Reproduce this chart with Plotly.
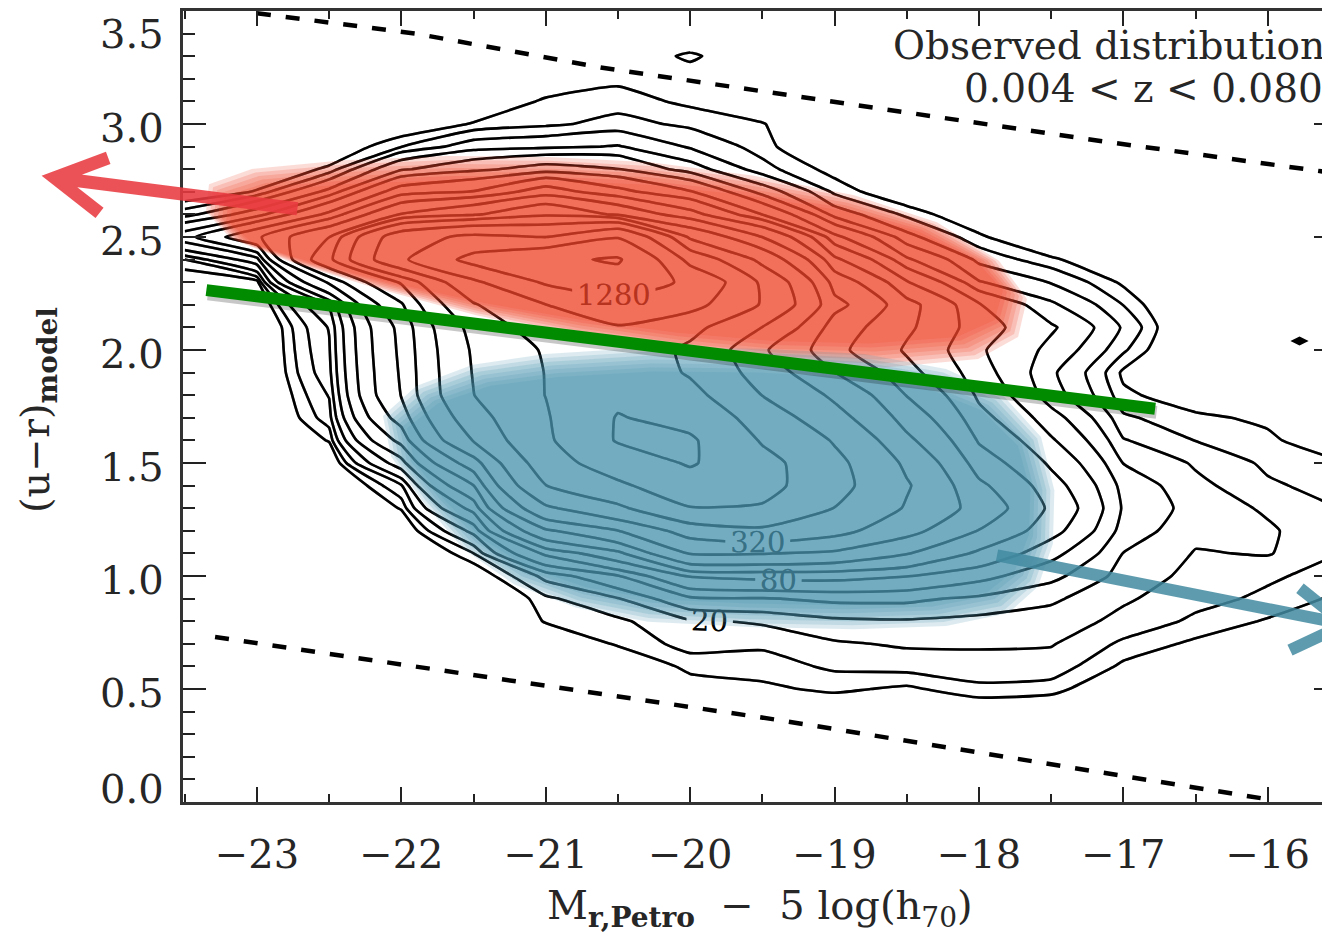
import numpy as np
import plotly.graph_objects as go

# ---------------- values ----------------
# magnitude bins (x) and colour bins (y) of the 2-D galaxy count histogram
mag_bins = [-23.5, -23.0, -22.5, -22.0, -21.5, -21.0, -20.5, -20.0, -19.5,
            -19.0, -18.5, -18.0, -17.5, -17.0, -16.5, -16.0, -15.5]
color_bins = [3.5, 3.4, 3.3, 3.2, 3.1, 3.0, 2.9, 2.8, 2.7, 2.6, 2.5, 2.4,
              2.3, 2.2, 2.1, 2.0, 1.9, 1.8, 1.7, 1.6, 1.5, 1.4, 1.3, 1.2,
              1.1, 1.0, 0.9, 0.8, 0.7, 0.6, 0.5, 0.4, 0.3, 0.2]

# estimated galaxy counts per bin, one list per magnitude column (colour 3.5 -> 0.2)
counts_m23_5 = [0, 0, 0, 0, 0, 0, 0, 0, 5, 17, 48, 14, 5, 2, 0, 0, 0, 0, 0, 0,
                0, 0, 0, 0, 0, 0, 0, 0, 0, 0, 0, 0, 0, 0]
counts_m23_0 = [0, 0, 0, 0, 0, 0, 0, 5, 10.5, 34, 105, 34, 8, 3, 0, 0, 0, 0, 0, 0,
                0, 0, 0, 0, 0, 0, 0, 0, 0, 0, 0, 0, 0, 0]
counts_m22_5 = [0, 0, 0, 0, 0, 0, 5, 11, 31, 86, 225, 290, 118, 41, 29, 27, 25, 20.5,
                17, 10.5, 3.5, 0, 0, 0, 0, 0, 0, 0, 0, 0, 0, 0, 0, 0]
counts_m22_0 = [0, 0, 0, 0, 1, 5, 14, 38, 95, 230, 780, 850, 330, 215, 175, 170, 166,
                162, 130, 88, 48, 19, 10.5, 4, 0, 0, 0, 0, 0, 0, 0, 0, 0, 0]
counts_m21_5 = [0, 0, 0, 0, 4, 10.5, 24, 52, 115, 306, 970, 1410, 840, 620, 500, 470,
                460, 450, 390, 325, 190, 112, 63, 31, 14, 5, 0, 0, 0, 0, 0, 0, 0, 0]
counts_m21_0 = [0, 0, 0, 5, 11, 13, 26, 65, 190, 430, 900, 1700, 1330, 900, 760, 660,
                645, 643, 620, 600, 540, 450, 300, 150, 60, 22, 13, 10.5, 4, 0, 0, 0, 0, 0]
counts_m20_5 = [0, 0, 2, 9, 12, 16, 29, 57, 125, 300, 1250, 1870, 1560, 1130, 880, 790,
                790, 850, 920, 925, 760, 600, 420, 224, 102, 39, 19.5, 13, 10.7, 4, 0, 0, 0, 0]
counts_m20_0 = [0, 0, 12, 4, 9, 13, 19, 33, 82, 180, 420, 800, 1200, 1000, 700, 600,
                620, 700, 820, 940, 930, 790, 630, 365, 230, 82, 37, 19, 16, 11.5, 7, 2, 0, 0]
counts_m19_5 = [0, 0, 0, 0, 3, 10.5, 12, 16, 34, 79, 225, 404, 597, 620, 450, 334,
                381, 450, 538, 620, 710, 710, 620, 420, 230, 88, 39, 21, 15, 12, 9, 2, 0, 0]
counts_m19_0 = [0, 0, 0, 0, 0, 0, 2, 8, 13, 24, 61, 121, 197, 250, 190, 174,
                228, 300, 360, 440, 490, 500, 450, 355, 211, 89, 43, 26, 19, 15, 11, 5, 0, 0]
counts_m18_5 = [0, 0, 0, 0, 0, 0, 0, 0, 5, 13, 22, 42, 82, 126, 120, 108,
                126, 158, 197, 243, 300, 330, 310, 250, 163, 81, 43, 27, 21, 16, 9, 4, 0, 0]
counts_m18_0 = [0, 0, 0, 0, 0, 0, 0, 0, 0, 5, 11, 18, 29, 58, 65, 59,
                65, 75, 89, 109, 135, 171, 197, 158, 105, 63, 37, 25, 21, 17, 13, 5, 0, 0]
counts_m17_5 = [0, 0, 0, 0, 0, 0, 0, 0, 0, 0, 3, 11, 19.5, 30, 42, 36,
                30, 33, 46, 59, 75, 92, 105, 90, 63, 44, 30, 24, 20.5, 17, 12, 4, 0, 0]
counts_m17_0 = [0, 0, 0, 0, 0, 0, 0, 0, 0, 0, 0, 4, 9, 14, 19, 15,
                9, 11, 15, 20.5, 28, 35, 38, 34, 28, 24, 21, 18, 13, 9, 4, 1, 0, 0]
counts_m16_5 = [0, 0, 0, 0, 0, 0, 0, 0, 0, 0, 0, 0, 0, 0, 0, 0,
                2, 7, 11, 14, 19, 22, 24, 22, 19.5, 18, 16, 13, 9, 5, 1, 0, 0, 0]
counts_m16_0 = [0, 0, 0, 0, 0, 0, 0, 0, 0, 0, 0, 0, 0, 0, 0, 0,
                0, 4, 9, 11, 13, 15, 19, 21, 20.5, 15, 13, 9.5, 6, 2, 0, 0, 0, 0]
counts_m15_5 = [0, 0, 0, 0, 0, 0, 0, 0, 0, 0, 0, 0, 0, 0, 0, 0,
                0, 0, 0, 6, 10.5, 12, 14, 15, 14, 12, 9, 5, 2, 0, 0, 0, 0, 0]

# contour levels (factor sqrt(2) apart); every fourth one is labelled
contour_levels = [10, 14.14, 20, 28.28, 40, 56.57, 80, 113.1, 160, 226.3,
                  320, 452.5, 640, 905.1, 1280, 1810]
labelled_levels = [20, 80, 320, 1280]

# isolated populated bin at the faint red end
isolated_M = [-15.78]
isolated_c = [2.04]

# green red/blue dividing line
divider_M = [-23.35, -16.78]
divider_c = [2.265, 1.74]

# dashed selection limits
upper_limit_M = [-23.0, -21.9, -20.62, -17.16, -15.45]
upper_limit_c = [3.49, 3.40, 3.25, 2.925, 2.775]
lower_limit_M = [-23.29, -21.0, -19.38, -17.0, -15.98]
lower_limit_c = [0.73, 0.515, 0.362, 0.115, 0.01]

# highlighted regions (outline points, magnitude / colour)
red_region_M = [-23.27, -22.98, -22.36, -21.66, -20.97, -20.28, -19.59, -18.90,
                -18.34, -17.92, -17.73, -17.79, -18.06, -18.69, -19.38, -20.07,
                -20.76, -21.46, -22.15, -22.70, -23.12, -23.29]
red_region_c = [2.704, 2.766, 2.801, 2.819, 2.815, 2.793, 2.740, 2.660,
                2.550, 2.395, 2.240, 2.086, 1.997, 1.962, 1.975, 2.019,
                2.086, 2.174, 2.285, 2.386, 2.483, 2.594]
blue_region_M = [-22.065, -21.84, -21.46, -20.97, -20.28, -19.52, -18.82, -18.27,
                 -17.89, -17.63, -17.54, -17.55, -17.65, -17.85, -18.27, -18.89,
                 -19.59, -20.28, -20.76, -21.18, -21.52, -21.80, -22.01]
blue_region_c = [1.688, 1.812, 1.900, 1.944, 1.971, 1.966, 1.944, 1.882,
                 1.776, 1.600, 1.379, 1.158, 0.981, 0.871, 0.818, 0.804,
                 0.813, 0.835, 0.893, 0.990, 1.136, 1.335, 1.520]

# arrows (tail, tip, arm ends)
red_arrow_M = [-22.72, -24.40, -24.03, -24.09]
red_arrow_c = [2.625, 2.762, 2.850, 2.607]
blue_arrow_M = [-17.875, -15.465, -15.777, -15.846]
blue_arrow_c = [1.0915, 0.7866, 0.9456, 0.6717]

x_tick_vals = [-23, -22, -21, -20, -19, -18, -17, -16]
y_tick_vals = [0.0, 0.5, 1.0, 1.5, 2.0, 2.5, 3.0, 3.5]
y_tick_text = ["0.0", "0.5", "1.0", "1.5", "2.0", "2.5", "3.0", "3.5"]

# ---------------- figure ----------------
X_RANGE = [-23.512, -15.569]
Y_RANGE = [0.0, 3.5]
PLOT_W, PLOT_H = 1147, 791
SERIF = "DejaVu Serif"
TEXT_COLOR = "#262626"

columns = [counts_m23_5, counts_m23_0, counts_m22_5, counts_m22_0, counts_m21_5,
           counts_m21_0, counts_m20_5, counts_m20_0, counts_m19_5, counts_m19_0,
           counts_m18_5, counts_m18_0, counts_m17_5, counts_m17_0, counts_m16_5,
           counts_m16_0, counts_m15_5]
z = np.array(columns, dtype=float).T[::-1]   # rows: colour ascending
y_axis_vals = color_bins[::-1]


def contour_pass(color, label_color):
    traces = []
    for lev in contour_levels:
        traces.append(go.Contour(
            x=mag_bins, y=y_axis_vals, z=z,
            autocontour=False,
            contours=dict(start=lev, end=lev, size=1, coloring="none",
                          showlabels=lev in labelled_levels,
                          labelfont=dict(family=SERIF, size=29, color=label_color)),
            line=dict(color=color, width=2.6, smoothing=0.5),
            showscale=False, hoverinfo="skip", showlegend=False))
    return traces


def to_px(M, c):
    return ((np.asarray(M) - X_RANGE[0]) / (X_RANGE[1] - X_RANGE[0]) * PLOT_W,
            (np.asarray(c) - Y_RANGE[0]) / (Y_RANGE[1] - Y_RANGE[0]) * PLOT_H)


def from_px(px, py):
    return (px / PLOT_W * (X_RANGE[1] - X_RANGE[0]) + X_RANGE[0],
            py / PLOT_H * (Y_RANGE[1] - Y_RANGE[0]) + Y_RANGE[0])


def soft_region(Ms, cs, rgba, insets):
    px, py = to_px(Ms, cs)
    cx, cy = (px.max() + px.min()) / 2, (py.max() + py.min()) / 2
    hw, hh = (px.max() - px.min()) / 2, (py.max() - py.min()) / 2
    out = []
    for d in insets:
        sx, sy = 1 - d / hw, 1 - d / hh
        qx, qy = from_px(cx + (px - cx) * sx, cy + (py - cy) * sy)
        out.append(go.Scatter(x=list(qx) + [qx[0]], y=list(qy) + [qy[0]],
                              mode="lines", fill="toself", fillcolor=rgba,
                              line=dict(width=0, color="rgba(0,0,0,0)"),
                              hoverinfo="skip", showlegend=False))
    return out


fig = go.Figure()

# contour lines (black)
for t in contour_pass("black", "black"):
    fig.add_trace(t)

# translucent coloured regions with soft edges
insets = [-9, -5, -1, 3, 7, 11, 15]
for t in soft_region(red_region_M, red_region_c, "rgba(240,70,44,0.19)", insets):
    fig.add_trace(t)
for t in soft_region(blue_region_M, blue_region_c, "rgba(76,150,176,0.19)", insets):
    fig.add_trace(t)

# darken the contour lines seen through the coloured regions
for t in contour_pass("rgba(0,0,0,0.42)", "rgba(0,0,0,0.42)"):
    fig.add_trace(t)

# dashed limits
fig.add_trace(go.Scatter(x=upper_limit_M, y=upper_limit_c, mode="lines",
                         line=dict(color="black", width=4.5, dash="14px,15px"),
                         hoverinfo="skip", showlegend=False))
fig.add_trace(go.Scatter(x=lower_limit_M, y=lower_limit_c, mode="lines",
                         line=dict(color="black", width=4.5, dash="14px,15px"),
                         hoverinfo="skip", showlegend=False))

# isolated bin
fig.add_trace(go.Scatter(x=isolated_M, y=isolated_c, mode="markers",
                         marker=dict(symbol="diamond-wide", size=13, color="black"),
                         hoverinfo="skip", showlegend=False))

# green divider with a soft shadow
fig.add_trace(go.Scatter(x=[m + 0.01 for m in divider_M], y=[c - 0.016 for c in divider_c],
                         mode="lines", line=dict(color="rgba(0,0,0,0.22)", width=13),
                         hoverinfo="skip", showlegend=False))
fig.add_trace(go.Scatter(x=divider_M, y=divider_c, mode="lines",
                         line=dict(color="#008b00", width=12),
                         hoverinfo="skip", showlegend=False))

# dummy trace for the right-hand tick axis
fig.add_trace(go.Scatter(x=[None], y=[None], yaxis="y2", showlegend=False, hoverinfo="skip"))


def arrow_path(Ms, cs):
    px = [(m - X_RANGE[0]) / (X_RANGE[1] - X_RANGE[0]) for m in Ms]
    py = [(c - Y_RANGE[0]) / (Y_RANGE[1] - Y_RANGE[0]) for c in cs]
    return (f"M {px[0]},{py[0]} L {px[1]},{py[1]} "
            f"M {px[2]},{py[2]} L {px[1]},{py[1]} L {px[3]},{py[3]}")


shapes = [
    dict(type="path", xref="paper", yref="paper", path=arrow_path(red_arrow_M, red_arrow_c),
         line=dict(color="rgba(232,58,64,0.88)", width=13), layer="above"),
    dict(type="path", xref="paper", yref="paper", path=arrow_path(blue_arrow_M, blue_arrow_c),
         line=dict(color="rgba(66,138,160,0.85)", width=12), layer="above"),
]

annotations = []
for v, txt in zip(y_tick_vals, y_tick_text):
    shift = -4
    if v == 3.5:
        shift = -23
    elif v == 0.0:
        shift = 13
    annotations.append(dict(x=-0.0157, xref="paper", y=v, yref="y", text=txt,
                            showarrow=False, xanchor="right", yanchor="middle",
                            yshift=shift, borderpad=0,
                            font=dict(family=SERIF, size=40, color=TEXT_COLOR)))

annotations += [
    dict(x=-0.1264, xref="paper", y=0.4956, yref="paper",
         text="(u\u2212r)<sub><b>model</b></sub>", textangle=-90, showarrow=False,
         xanchor="center", yanchor="middle", font=dict(family=SERIF, size=40, color=TEXT_COLOR)),
    dict(x=0.503, xref="paper", y=-0.134, yref="paper",
         text="M<sub><b>r,Petro</b></sub>  \u2212  5 log(h<sub>70</sub>)", showarrow=False,
         xanchor="center", yanchor="middle", font=dict(family=SERIF, size=40, color=TEXT_COLOR)),
    dict(x=0.9975, xref="paper", y=0.957, yref="paper", text="Observed distribution",
         showarrow=False, xanchor="right", yanchor="middle",
         font=dict(family=SERIF, size=39, color=TEXT_COLOR)),
    dict(x=0.9955, xref="paper", y=0.902, yref="paper", text="0.004 < z < 0.080",
         showarrow=False, xanchor="right", yanchor="middle",
         font=dict(family=SERIF, size=39, color=TEXT_COLOR)),
]

# the page adds an 8 px body margin, so the figure is sized/offset to compensate
fig.update_layout(
    width=1322, height=935,
    margin=dict(l=175, r=0, t=3, b=141, pad=0),
    plot_bgcolor="white", paper_bgcolor="white",
    showlegend=False,
    shapes=shapes,
    annotations=annotations,
    xaxis=dict(range=X_RANGE, tickmode="array", tickvals=x_tick_vals,
               ticks="inside", ticklen=15, tickwidth=2, tickcolor="#222",
               minor=dict(dtick=0.5, tick0=-23.5, ticks="inside", ticklen=8,
                          tickwidth=2, tickcolor="#222"),
               showline=True, linewidth=2.5, linecolor="#333", mirror="ticks",
               showgrid=False, zeroline=False,
               tickfont=dict(family=SERIF, size=40, color=TEXT_COLOR),
               ticklabelstandoff=15),
    yaxis=dict(range=Y_RANGE, tickmode="array", tickvals=y_tick_vals,
               showticklabels=False, ticks="inside", ticklen=23, tickwidth=2,
               tickcolor="#222",
               minor=dict(dtick=0.1, tick0=0, ticks="inside", ticklen=12,
                          tickwidth=2, tickcolor="#222"),
               showline=True, linewidth=2.5, linecolor="#333", mirror=False,
               showgrid=False, zeroline=False),
    yaxis2=dict(range=Y_RANGE, overlaying="y", side="right", anchor="x",
                tickmode="array", tickvals=y_tick_vals, showticklabels=False,
                ticks="inside", ticklen=16, tickwidth=2, tickcolor="#222",
                showline=False, showgrid=False, zeroline=False),
)

fig.write_html("out.html")
